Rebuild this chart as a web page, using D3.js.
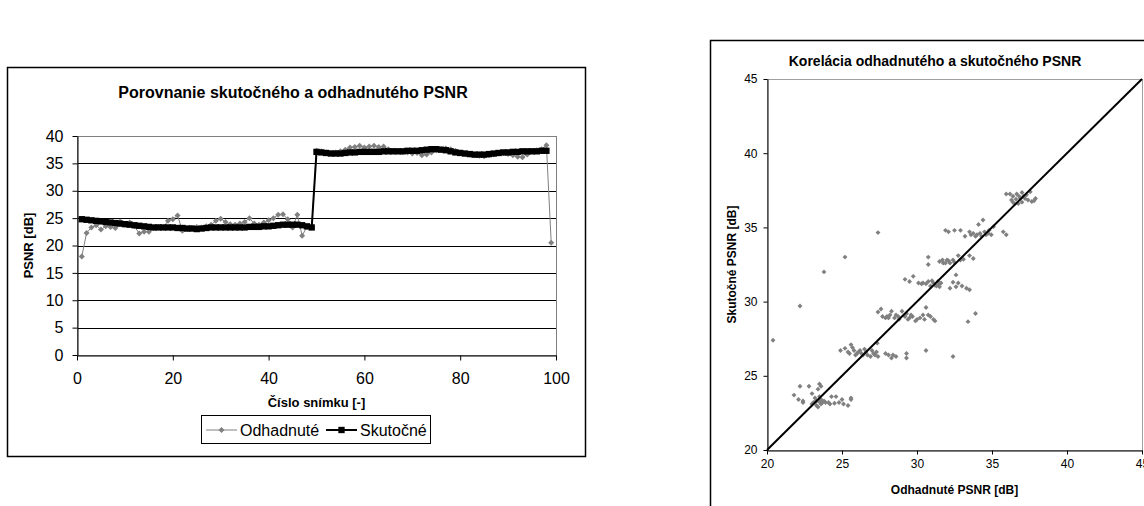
<!DOCTYPE html>
<html>
<head>
<meta charset="utf-8">
<script src="https://cdn.jsdelivr.net/npm/d3@7"></script>
<style>
  body { margin: 0; background: #fff; }
  svg { font-family: "Liberation Sans", Arial, sans-serif; display: block; }
</style>
</head>
<body>
<div id="chart"></div>
<script>
// ---- data: left chart (frame number 1..n) ----
var odhadnute = [
  18.0, 22.3, 23.3, 23.7, 22.9, 23.5, 23.4, 23.2, 24.4, 23.8,
  24.2, 23.5, 22.2, 22.5, 22.5, 23.2, 23.4, 23.3, 24.5, 24.8,
  25.5, 22.7, 23.0, 23.2, 23.4, 23.3, 23.5, 23.8, 24.5, 24.9,
  24.3, 23.9, 23.8, 24.0, 24.3, 25.0, 24.0, 23.8, 24.2, 24.6,
  25.0, 25.6, 25.7, 24.8, 23.3, 25.6, 21.8, 23.4, 23.3,
  37.3, 37.2, 37.0, 36.9, 37.0, 37.2, 37.5, 37.9, 38.0, 38.2,
  37.9, 38.1, 38.2, 38.0, 38.1, 37.6, 37.3, 37.2, 37.1, 37.0,
  36.8, 36.9, 36.5, 36.6, 37.0, 37.4, 37.6, 37.7, 37.6, 37.3,
  37.0, 36.7, 36.6, 36.5, 36.4, 36.3, 36.5, 36.6, 36.8, 36.9,
  36.7, 36.5, 36.2, 36.1, 36.6, 37.2, 37.4, 37.6, 38.3, 20.5
];
var skutocne = [
  24.8, 24.7, 24.6, 24.5, 24.4, 24.3, 24.2, 24.1, 24.0, 23.9,
  23.8, 23.7, 23.6, 23.5, 23.4, 23.3, 23.3, 23.3, 23.3, 23.3,
  23.2, 23.2, 23.1, 23.1, 23.0, 23.1, 23.2, 23.3, 23.3, 23.3,
  23.3, 23.3, 23.3, 23.3, 23.3, 23.4, 23.4, 23.4, 23.5, 23.5,
  23.6, 23.7, 23.8, 23.8, 23.8, 23.8, 23.7, 23.5, 23.3,
  37.1, 37.0, 36.9, 36.8, 36.8, 36.8, 36.9, 37.0, 37.0, 37.1,
  37.1, 37.1, 37.1, 37.1, 37.2, 37.2, 37.2, 37.2, 37.2, 37.3,
  37.3, 37.3, 37.4, 37.5, 37.6, 37.6, 37.5, 37.4, 37.2, 37.0,
  36.9, 36.8, 36.7, 36.6, 36.6, 36.6, 36.7, 36.8, 36.9, 37.0,
  37.0, 37.1, 37.1, 37.2, 37.2, 37.2, 37.2, 37.3, 37.3
];
var frameTicks = [0, 20, 40, 60, 80, 100];
var psnrTicks = [0, 5, 10, 15, 20, 25, 30, 35, 40];
var seriesNames = ["Odhadnuté", "Skutočné"];

// ---- data: right chart [odhadnuté, skutočné] ----
var corrPoints = [
  [20.4,27.4],[22.2,29.7],[23.8,32.0],[25.2,33.0],[27.4,34.65],[30.75,33.0],[30.75,32.5],
  [32.4,26.3],[30.6,26.7],[33.9,29.2],[33.4,28.65],[30.6,29.6],
  [21.8,23.7],[22.1,23.4],[22.2,24.3],[22.8,24.3],[22.4,23.3],[23.0,23.8],[23.2,23.2],
  [23.3,23.0],[23.4,24.1],[23.5,24.45],[23.5,23.6],[23.6,23.1],[23.9,23.2],[24.1,23.2],
  [24.3,23.6],[24.5,23.15],[24.6,23.6],[25.0,23.4],[25.1,23.1],[25.4,23.0],[25.6,23.5],
  [25.6,23.4],[23.1,23.2],[23.3,23.3],[23.5,23.25],[23.7,23.2],[23.4,22.9],[23.6,23.4],
  [24.8,23.2],[23.2,23.5],[23.0,23.1],[22.4,23.2],[23.6,24.3],[23.8,23.3],[24.2,23.1],
  [24.9,26.7],[25.2,26.85],[25.4,26.6],[25.6,27.1],[25.8,26.7],[26.0,26.5],[26.2,26.7],
  [26.4,26.4],[26.6,26.6],[26.9,26.3],[27.1,26.5],[27.3,26.6],[27.4,26.3],[27.35,27.2],
  [27.9,26.5],[28.1,26.4],[28.3,26.2],[28.6,26.3],[29.3,26.5],[29.3,26.2],[25.7,26.9],
  [25.9,26.4],[26.1,26.6],[26.3,26.5],[26.7,26.4],[27.0,26.7],[27.2,26.4],[26.5,26.8],
  [25.5,26.5],[28.4,26.4],
  [27.4,29.3],[27.6,29.5],[27.7,29.0],[28.0,29.0],[28.2,29.1],[28.3,29.35],[28.5,28.9],
  [28.75,29.0],[29.0,29.35],[29.2,29.0],[29.4,28.8],[29.6,29.1],[29.9,28.7],[30.2,28.9],
  [30.4,29.1],[30.75,29.1],[31.1,28.8],[31.2,28.7],[29.3,29.2],[27.9,28.9],[28.8,28.8],
  [29.5,28.9],[30.0,28.8],[30.5,28.8],[30.9,29.0],[28.1,28.9],[29.7,29.0],[28.6,29.1],
  [29.2,31.5],[29.5,31.35],[29.75,31.7],[30.1,31.25],[30.4,31.25],[30.75,31.35],[30.9,31.05],
  [31.1,31.25],[31.3,31.05],[31.4,31.35],[31.5,31.0],[31.6,31.25],[32.2,30.9],[32.4,31.3],
  [32.6,31.0],[32.75,31.25],[32.6,31.8],[33.0,31.05],[33.3,30.9],[33.5,30.8],[30.3,31.2],
  [31.2,31.1],[31.0,31.4],[30.6,31.2],[31.45,31.15],
  [31.5,32.7],[31.75,32.6],[32.0,32.8],[32.2,32.6],[32.4,32.8],[32.75,33.1],[33.1,32.85],
  [33.5,33.1],[33.75,32.9],[31.7,32.8],[32.1,32.75],[32.5,32.65],[32.9,32.8],[31.9,32.6],
  [31.9,34.8],[32.1,34.7],[32.5,34.8],[32.9,34.8],[33.2,34.4],[33.5,34.7],[33.75,34.6],
  [34.0,34.5],[34.2,34.6],[34.4,35.5],[34.5,34.7],[34.75,34.6],[34.95,34.5],[35.1,35.05],
  [34.1,35.2],[35.75,34.7],[35.95,34.5],[33.9,34.4],[34.3,34.4],[34.6,34.5],[34.8,34.8],
  [33.6,34.5],
  [35.95,37.25],[36.2,37.25],[36.4,37.1],[36.65,37.25],[36.75,36.6],[36.9,36.95],[37.0,37.35],
  [37.2,36.95],[37.4,36.85],[37.65,36.75],[37.9,36.95],[37.55,37.4],[36.5,36.6],[36.3,36.85],
  [36.6,36.9],[36.8,37.1],[37.1,37.1],[37.3,37.2],[37.8,36.8],[36.4,36.7],[37.0,36.7]
];
var corrTicks = [20, 25, 30, 35, 40, 45];

var GRAY = "#808080";

var svg = d3.select("#chart").append("svg")
    .attr("width", 1144)
    .attr("height", 506);

// =============== left chart ===============
var lc = svg.append("g");

lc.append("rect")
    .attr("x", 7.5).attr("y", 67.5)
    .attr("width", 578).attr("height", 389)
    .attr("fill", "#fff").attr("stroke", "#000").attr("stroke-width", 1.5);

var x = d3.scaleLinear().domain([0, 100]).range([77, 556]);
var y = d3.scaleLinear().domain([0, 40]).range([355, 136]);

lc.append("text")
    .attr("x", 293).attr("y", 98)
    .attr("text-anchor", "middle")
    .style("font-size", "16px").style("font-weight", "bold")
    .text("Porovnanie skutočného a odhadnutého PSNR");

// gridlines
lc.append("g").selectAll("line")
    .data(psnrTicks.slice(1, -1))
    .enter().append("line")
    .attr("x1", x(0)).attr("x2", x(100))
    .attr("y1", function(d){ return Math.round(y(d)) + 0.5; })
    .attr("y2", function(d){ return Math.round(y(d)) + 0.5; })
    .attr("stroke", "#000").attr("stroke-width", 1);

// plot area border
lc.append("rect")
    .attr("x", x(0) + 0.5).attr("y", Math.round(y(40)) + 0.5)
    .attr("width", x(100) - x(0)).attr("height", y(0) - y(40))
    .attr("fill", "none").attr("stroke", GRAY);

var yAxis = lc.append("g")
    .attr("transform", "translate(" + (x(0) + 0.5) + ",0)")
    .call(d3.axisLeft(y).tickValues(psnrTicks).tickSize(5).tickSizeOuter(0).tickPadding(9));
var xAxis = lc.append("g")
    .attr("transform", "translate(0," + (Math.round(y(0)) + 0.5) + ")")
    .call(d3.axisBottom(x).tickValues(frameTicks).tickSize(5).tickSizeOuter(0).tickPadding(12));
[yAxis, xAxis].forEach(function(ax){
    ax.selectAll("text").style("font-size", "16px").attr("fill", "#000")
      .style("font-family", "Liberation Sans, Arial, sans-serif");
    ax.selectAll("line, path").attr("stroke", "#000");
});

lc.append("text")
    .attr("transform", "translate(33," + ((y(0) + y(40)) / 2) + ") rotate(-90)")
    .attr("text-anchor", "middle")
    .style("font-size", "13px").style("font-weight", "bold")
    .text("PSNR [dB]");

lc.append("text")
    .attr("x", (x(0) + x(100)) / 2).attr("y", 407)
    .attr("text-anchor", "middle")
    .style("font-size", "13px").style("font-weight", "bold")
    .text("Číslo snímku [-]");

var line = d3.line()
    .x(function(d, i){ return x(i + 1); })
    .y(function(d){ return y(d); });

var diamond = d3.symbol().type(d3.symbolSquare).size(18);
var square = d3.symbol().type(d3.symbolSquare).size(40);

lc.append("path")
    .datum(odhadnute)
    .attr("d", line)
    .attr("fill", "none").attr("stroke", GRAY).attr("stroke-width", 1);
lc.append("g").selectAll("path")
    .data(odhadnute)
    .enter().append("path")
    .attr("d", diamond)
    .attr("transform", function(d, i){ return "translate(" + x(i + 1) + "," + y(d) + ") rotate(45)"; })
    .attr("fill", GRAY);

lc.append("path")
    .datum(skutocne)
    .attr("d", line)
    .attr("fill", "none").attr("stroke", "#000").attr("stroke-width", 2);
lc.append("g").selectAll("path")
    .data(skutocne)
    .enter().append("path")
    .attr("d", square)
    .attr("transform", function(d, i){ return "translate(" + x(i + 1) + "," + y(d) + ")"; })
    .attr("fill", "#000");

// legend
var lg = lc.append("g").attr("transform", "translate(201,415)");
lg.append("rect")
    .attr("x", 0.5).attr("y", 0.5).attr("width", 229).attr("height", 28)
    .attr("fill", "#fff").attr("stroke", "#000");
var legItems = [
    { name: seriesNames[0], color: GRAY, sym: diamond, rot: 45, x: 5, w: 1 },
    { name: seriesNames[1], color: "#000", sym: square, rot: 0, x: 125, w: 2 }
];
legItems.forEach(function(it){
    var g = lg.append("g").attr("transform", "translate(" + it.x + ",15)");
    g.append("line").attr("x1", 0).attr("x2", 31).attr("stroke", it.color).attr("stroke-width", it.w);
    g.append("path").attr("d", it.sym).attr("fill", it.color)
        .attr("transform", "translate(15.5,0) rotate(" + it.rot + ")");
    g.append("text").attr("x", 34).attr("y", 6)
        .style("font-size", "16px").text(it.name);
});

// =============== right chart ===============
var rc = svg.append("g");

rc.append("rect")
    .attr("x", 710.5).attr("y", 40.5)
    .attr("width", 460).attr("height", 500)
    .attr("fill", "#fff").attr("stroke", "#000").attr("stroke-width", 1.5);

var xs = d3.scaleLinear().domain([20, 45]).range([767, 1142]);
var ys = d3.scaleLinear().domain([20, 45]).range([450, 79]);

rc.append("text")
    .attr("x", 935).attr("y", 66)
    .attr("text-anchor", "middle")
    .style("font-size", "14px").style("font-weight", "bold")
    .text("Korelácia odhadnutého a skutočného PSNR");

rc.append("rect")
    .attr("x", xs(20) + 0.5).attr("y", ys(45) + 0.5)
    .attr("width", xs(45) - xs(20)).attr("height", ys(20) - ys(45))
    .attr("fill", "none").attr("stroke", "#a0a0a0");

var ysAxis = rc.append("g")
    .attr("transform", "translate(" + (xs(20) + 0.5) + ",0)")
    .call(d3.axisLeft(ys).tickValues(corrTicks).tickSize(4).tickSizeOuter(0).tickPadding(6));
var xsAxis = rc.append("g")
    .attr("transform", "translate(0," + (ys(20) + 0.5) + ")")
    .call(d3.axisBottom(xs).tickValues(corrTicks).tickSize(4).tickSizeOuter(0).tickPadding(5));
[ysAxis, xsAxis].forEach(function(ax){
    ax.selectAll("text").style("font-size", "12px").attr("fill", "#000")
      .style("font-family", "Liberation Sans, Arial, sans-serif");
    ax.selectAll("line, path").attr("stroke", "#000");
});

rc.append("text")
    .attr("transform", "translate(736," + ((ys(20) + ys(45)) / 2) + ") rotate(-90)")
    .attr("text-anchor", "middle")
    .style("font-size", "12px").style("font-weight", "bold")
    .text("Skutočné PSNR [dB]");

rc.append("text")
    .attr("x", (xs(20) + xs(45)) / 2).attr("y", 494)
    .attr("text-anchor", "middle")
    .style("font-size", "12px").style("font-weight", "bold")
    .text("Odhadnuté PSNR [dB]");

var dot = d3.symbol().type(d3.symbolSquare).size(12);
rc.append("g").selectAll("path")
    .data(corrPoints)
    .enter().append("path")
    .attr("d", dot)
    .attr("transform", function(d){ return "translate(" + xs(d[0]) + "," + ys(d[1]) + ") rotate(45)"; })
    .attr("fill", GRAY);

rc.append("line")
    .attr("x1", xs(20)).attr("y1", ys(20))
    .attr("x2", xs(45)).attr("y2", ys(45))
    .attr("stroke", "#000").attr("stroke-width", 2);
</script>
</body>
</html>
